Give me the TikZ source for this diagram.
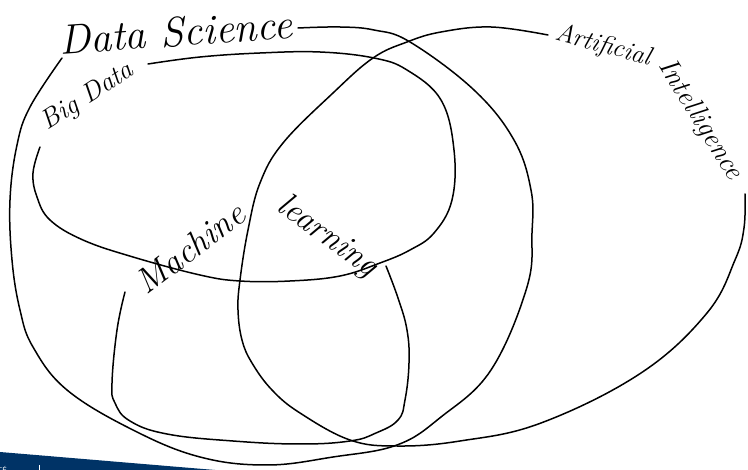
\documentclass[tikz,border=0pt]{standalone}
\usepackage{tikz}
\usetikzlibrary{positioning,calc}
\tikzset{
  setln/.style={line width=1.5pt, line cap=round, line join=round},
  handtxt/.style={inner sep=0pt, font=\itshape},
}
\newcommand{\txtsz}[1]{\fontsize{#1}{#1}\selectfont}
\definecolor{footblue}{RGB}{0,51,102}

\begin{document}
\begin{tikzpicture}[x=1pt, y=-1pt]
    \useasboundingbox (0,0) rectangle (748,470);
    % data science
    \draw[setln] plot[smooth, tension=0.65] coordinates {(298,28) (340,27) (374,30) (410,42) (474,90) (514,140) (531,190) (532,233) (527,287) (491,370) (441,417) (397,445) (333,457) (267,465) (200,457) (133,430) (67,390) (33,347) (20,310) (12,260) (10,200) (17,145) (30,107) (62,58)};
    % big data
    \draw[setln] plot[smooth, tension=0.65] coordinates {(148,64) (200,57) (260,53) (320,52) (374,58) (407,70) (441,100) (454,150) (452,200) (434,233) (410,250) (380,263) (340,276) (290,281) (240,281) (200,275) (133,257) (83,240) (50,220) (37,197) (33,173) (40,147)};
    % artificial intelligence
    \draw[setln] plot[smooth, tension=0.65] coordinates {(548,35) (491,27) (441,32) (407,42) (373,58) (333,93) (283,143) (260,183) (248,230) (240,280) (238,310) (242,340) (252,363) (272,390) (300,413) (350,440) (397,446) (460,441) (541,423) (641,373) (707,313) (735,260) (744,228) (745,194)};
    % machine learning
    \draw[setln] plot[smooth, tension=0.7] coordinates {(125,292) (117,330) (112,383) (115,403) (130,421) (167,434) (233,441) (300,444) (350,441) (376,433) (398,420) (405,400) (409,363) (407,330) (398,298) (386,266)};
    % labels
    \node[handtxt, rotate=4] (ds) at (176,32) {\txtsz{42}Data Science};
    \node[handtxt, rotate=33] (bd) at (88,97) {\txtsz{27}Big Data};
    \node[handtxt, rotate=-15] (ai1) at (603,46) {\txtsz{26}Artificial};
    \node[handtxt, rotate=-58] (ai2) at (700,120) {\txtsz{28}Intelligence};
    \node[handtxt, rotate=37] (ml1) at (190,248) {\txtsz{35}Machine};
    \node[handtxt, rotate=-36] (ml2) at (327,237) {\txtsz{34}learning};
    % footer band
    \fill[footblue] (0,452) -- (215,470) -- (0,470) -- cycle;
    \draw[white, line width=0.5pt] (39,465) -- (39,470);
    \node[white, anchor=north west, inner sep=0pt, font=\sffamily\txtsz{7}] (ft) at (-3,466) {TÉ};
\end{tikzpicture}
\end{document}
